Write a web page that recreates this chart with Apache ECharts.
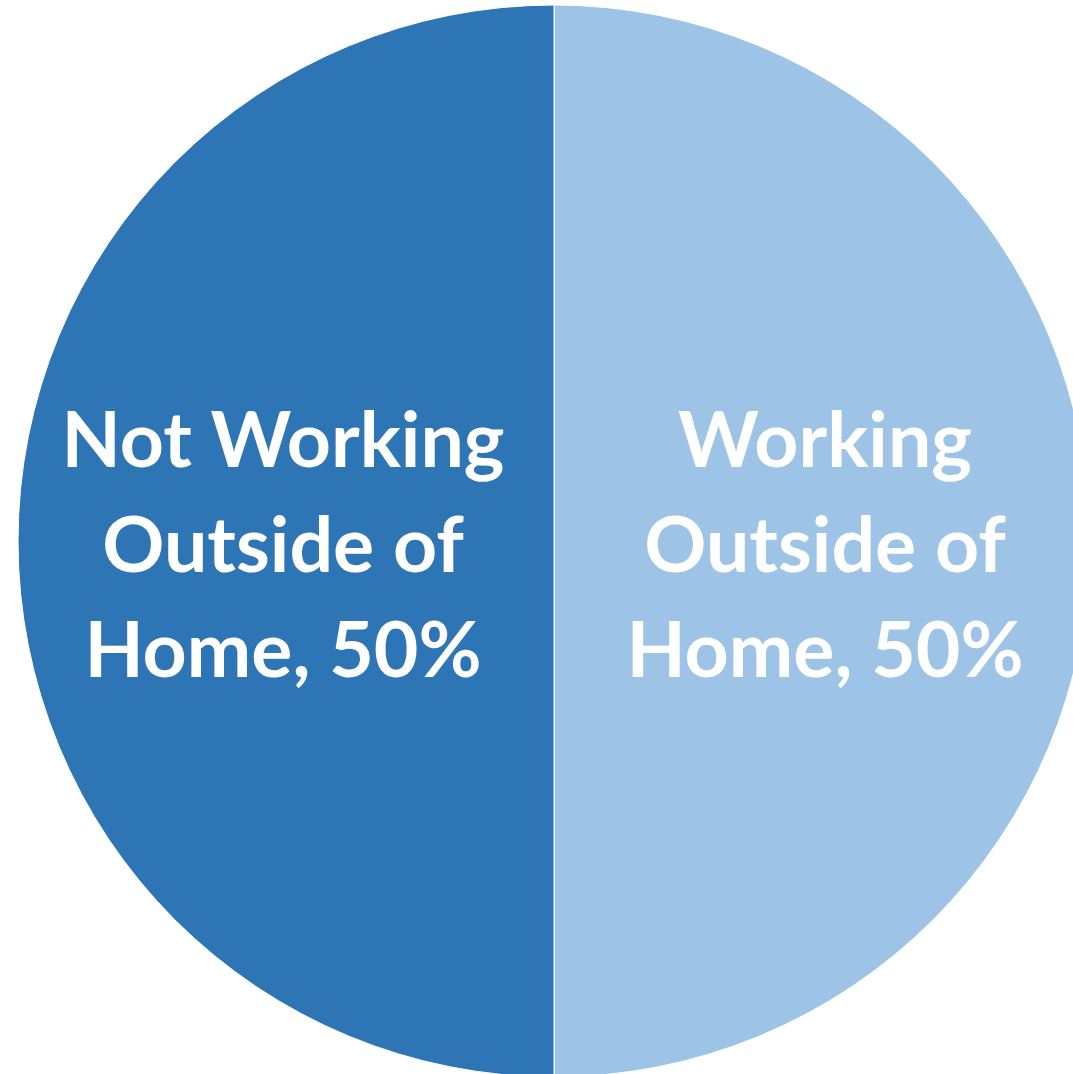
<!DOCTYPE html>
<html>
<head>
<meta charset="utf-8">
<script src="https://cdn.jsdelivr.net/npm/echarts@6/dist/echarts.min.js"></script>
<style>html,body{margin:0;padding:0;background:#fff}#c{width:1073px;height:1074px}</style>
</head>
<body>
<div id="c"></div>
<script>
const categories = ["Working\nOutside of\nHome", "Not Working\nOutside of\nHome"];
const values = [50, 50];
const colors = ["#9DC3E6", "#2E75B6"];

const chart = echarts.init(document.getElementById('c'), null, {renderer: 'canvas'});
chart.setOption({
  animation: false,
  series: [{
    type: 'pie',
    center: [554, 541],
    radius: 536,
    startAngle: 90,
    clockwise: true,
    data: categories.map((n, i) => ({name: n, value: values[i], itemStyle: {color: colors[i]}})),
    itemStyle: {borderColor: '#ffffff', borderWidth: 1},
    label: {
      show: true,
      position: 'inside',
      formatter: p => p.name + ', ' + Math.round(p.percent) + '%',
      color: '#ffffff',
      fontFamily: 'Lato',
      fontWeight: 'bold',
      fontSize: 77,
      lineHeight: 105,
      offset: [0, 6],
      align: 'center'
    },
    labelLine: {show: false},
    emphasis: {disabled: true}
  }]
});
</script>
</body>
</html>
